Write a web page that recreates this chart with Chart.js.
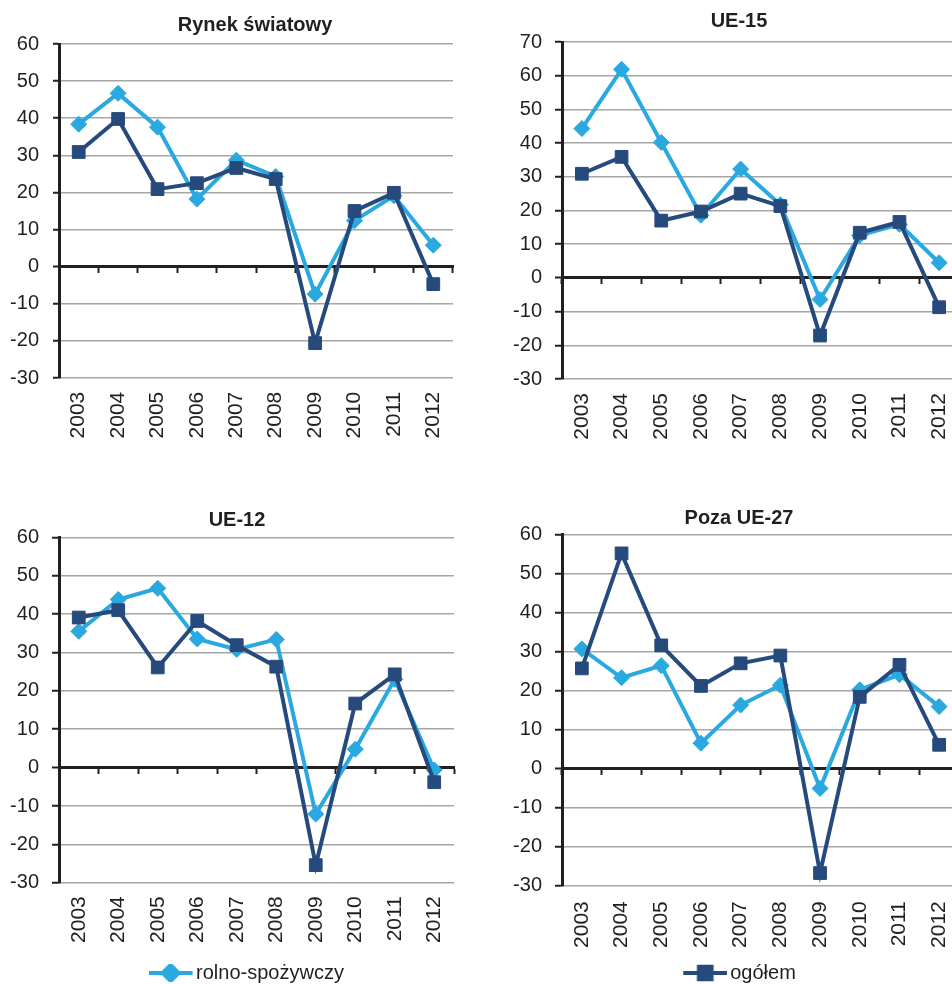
<!DOCTYPE html>
<html>
<head>
<meta charset="utf-8">
<script src="https://cdn.jsdelivr.net/npm/chart.js@4.4.0/dist/chart.umd.min.js"></script>
<style>
html,body{margin:0;padding:0;background:#fff;overflow:hidden;width:952px;height:984px;position:relative;}
canvas{position:absolute;}
</style>
</head>
<body>
<canvas id="c1" width="510" height="480" style="left:0;top:0"></canvas>
<canvas id="c2" width="526" height="480" style="left:476px;top:0"></canvas>
<canvas id="c3" width="474" height="493" style="left:0;top:500px"></canvas>
<canvas id="c4" width="526" height="493" style="left:476px;top:500px"></canvas>
<script>
// ---- data ----
const years = ['2003','2004','2005','2006','2007','2008','2009','2010','2011','2012'];
const seriesNames = ['rolno-spożywczy', 'ogółem'];
const panelTitles = ['Rynek światowy', 'UE-15', 'UE-12', 'Poza UE-27'];

const rynekRolno  = [38.4, 46.7, 37.6, 18.2, 28.7, 24.3, -7.4, 12.4, 19.1, 5.8];
const rynekOgolem = [30.9, 39.8, 20.9, 22.5, 26.6, 23.6, -20.6, 15.0, 19.9, -4.7];

const ue15Rolno   = [44.3, 61.9, 40.2, 18.6, 32.3, 21.7, -6.4, 12.6, 15.9, 4.5];
const ue15Ogolem  = [30.9, 35.9, 17.0, 19.7, 25.0, 21.3, -17.1, 13.4, 16.6, -8.7];

const ue12Rolno   = [35.5, 43.8, 46.7, 33.5, 30.8, 33.4, -12.1, 4.8, 23.0, -0.6];
const ue12Ogolem  = [39.1, 41.0, 26.1, 38.2, 31.9, 26.3, -25.4, 16.7, 24.3, -3.8];

const pozaRolno   = [30.7, 23.3, 26.4, 6.5, 16.3, 21.4, -5.1, 20.2, 24.1, 15.9];
const pozaOgolem  = [25.7, 55.2, 31.6, 21.2, 27.0, 29.0, -26.8, 18.4, 26.6, 6.1];

const yRanges = [[-30, 60], [-30, 70], [-30, 60], [-30, 60]];

// ---- styles ----
const LIGHT = '#2AA8E0';
const DARK = '#264A7C';
const GRID = '#a6a6a6';
const INK = '#231f20';
const FONT = "'Liberation Sans', Arial, Helvetica, sans-serif";

Chart.defaults.font.family = FONT;
Chart.defaults.color = INK;

// legend icon: line with marker; 'shift' moves the visible part inside a transparent canvas
function legendIcon(color, style, radius, visW, h, shift) {
  const extra = Math.abs(shift) * 2;
  const c = document.createElement('canvas');
  c.width = visW + extra; c.height = h;
  const x0 = shift < 0 ? 0 : extra;
  const g = c.getContext('2d');
  g.strokeStyle = color; g.lineWidth = 4;
  g.beginPath(); g.moveTo(x0, h / 2); g.lineTo(x0 + visW, h / 2); g.stroke();
  g.fillStyle = color;
  if (Chart.helpers && Chart.helpers.drawPoint) {
    Chart.helpers.drawPoint(g, {pointStyle: style, radius: radius, borderWidth: 1, rotation: 0}, x0 + visW / 2, h / 2);
    g.fill();
  }
  return c;
}

function makeChart(id, title, rolno, ogolem, range, L) {
  const datasets = [
    {label: seriesNames[1], data: ogolem, borderColor: DARK, backgroundColor: DARK,
     pointStyle: 'rect', pointRadius: 9, pointHoverRadius: 9, pointBorderWidth: 1,
     borderWidth: 4, tension: 0, xAxisID: 'x', yAxisID: 'y'},
    {label: seriesNames[0], data: rolno, borderColor: LIGHT, backgroundColor: LIGHT,
     pointStyle: 'rectRot', pointRadius: 8, pointHoverRadius: 8, pointBorderWidth: 1,
     borderWidth: 4, tension: 0, xAxisID: 'x', yAxisID: 'y'}
  ];
  let icon = null;
  if (L.legend) {
    icon = L.legend === seriesNames[0]
      ? legendIcon(LIGHT, 'rectRot', 8, 44, 18, L.iconShift)
      : legendIcon(DARK, 'rect', 9, 44, 18, L.iconShift);
  }
  return new Chart(document.getElementById(id), {
    type: 'line',
    data: {labels: years, datasets: datasets},
    options: {
      responsive: false,
      animation: false,
      layout: {padding: {top: L.padTop, right: 0, left: 0, bottom: 0}},
      plugins: {
        tooltip: {enabled: false},
        title: {display: true, text: title, color: INK, fullSize: true,
                font: {size: 20, weight: 'bold', lineHeight: 1.2},
                padding: {top: 0, bottom: L.titlePadBottom}},
        legend: {
          display: !!L.legend, position: 'bottom', fullSize: !!L.legendFull,
          labels: {
            usePointStyle: true, pointStyleWidth: L.bw, padding: 10,
            color: INK, font: {size: 20},
            generateLabels: (chart) => Chart.defaults.plugins.legend.labels.generateLabels(chart)
              .filter(it => it.text === L.legend)
              .map(it => Object.assign(it, {pointStyle: icon}))
          }
        }
      },
      scales: {
        x: {
          type: 'category', position: 'bottom', offset: true,
          grid: {display: true, offset: true, drawTicks: false, lineWidth: 1.5,
                 color: c => c.index === years.length ? GRID : 'rgba(0,0,0,0)'},
          border: {display: false},
          ticks: {autoSkip: false, minRotation: 90, maxRotation: 90, padding: L.xPad,
                  color: INK, font: {size: 21}},
          afterFit: s => { s.height = L.xHeight; }
        },
        x0: {
          type: 'category', position: {y: 0}, offset: true,
          grid: {display: true, offset: true, drawOnChartArea: false, drawTicks: true,
                 tickLength: 5, tickColor: INK, tickWidth: 2},
          border: {display: true, color: INK, width: 3},
          ticks: {display: false, autoSkip: false}
        },
        y: {
          position: 'left', min: range[0], max: range[1],
          ticks: {stepSize: 10, padding: L.yPad, color: INK, font: {size: 20}},
          grid: {drawTicks: true, tickLength: L.yTick, tickColor: INK, tickWidth: 2,
                 color: c => (c.tick && c.tick.value === 0) ? INK : GRID,
                 lineWidth: c => (c.tick && c.tick.value === 0) ? 3 : 1.5},
          border: {display: true, color: INK, width: 3},
          afterFit: s => { s.width = L.yWidth; }
        },
        spacer: {
          type: 'linear', position: 'right', display: true,
          grid: {display: false}, border: {display: false}, ticks: {display: false},
          afterFit: s => { s.width = L.padRight; }
        }
      }
    }
  });
}

makeChart('c1', panelTitles[0], rynekRolno, rynekOgolem, yRanges[0],
  {padTop: 13.6, padRight: 57, titlePadBottom: 6.4, yWidth: 59, yTick: 6, yPad: 14, xHeight: 102, xPad: 13.7});
makeChart('c2', panelTitles[1], ue15Rolno, ue15Ogolem, yRanges[1],
  {padTop: 9.6, padRight: 43, titlePadBottom: 8.4, yWidth: 86, yTick: 7, yPad: 13, xHeight: 101, xPad: 14});
makeChart('c3', panelTitles[2], ue12Rolno, ue12Ogolem, yRanges[2],
  {padTop: 8.6, padRight: 20, titlePadBottom: 4.7, yWidth: 59, yTick: 7, yPad: 13, xHeight: 70.2, xPad: 13.4,
   legend: seriesNames[0], legendFull: false, bw: 17, iconShift: -7});
makeChart('c4', panelTitles[3], pozaRolno, pozaOgolem, yRanges[3],
  {padTop: 6.3, padRight: 43, titlePadBottom: 4.4, yWidth: 86, yTick: 7, yPad: 13, xHeight: 67.5, xPad: 15.7,
   legend: seriesNames[1], legendFull: true, bw: 38, iconShift: 4});
</script>
</body>
</html>
